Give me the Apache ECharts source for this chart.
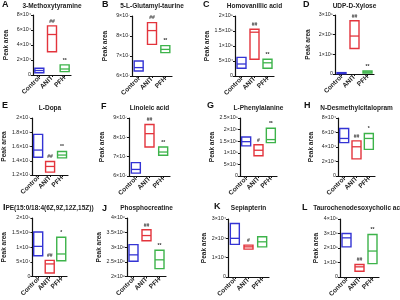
<!DOCTYPE html>
<html><head><meta charset="utf-8">
<script src="https://cdn.jsdelivr.net/npm/echarts@6/dist/echarts.min.js"></script>
<style>html,body{margin:0;padding:0;background:#fff}#c{width:400px;height:300px}</style>
</head><body><div id="c"></div>
<script>
const panelLetters = ['A','B','C','D','E','F','G','H','I','J','K','L'];
const metabolites = ['3-Methoxytyramine','5-L-Glutamyl-taurine','Homovanillic acid','UDP-D-Xylose',
  'L-Dopa','Linoleic acid','L-Phenylalanine','N-Desmethylcitalopram',
  'PE(15:0/18:4(6Z,9Z,12Z,15Z))','Phosphocreatine','Sepiapterin','Taurochenodesoxycholic acid'];
const groups = ['Control','ANIT','PFH'];
// axis ranges, in units of 10^yExp
const yMin  = [0, 6, 0,   0, 1.2, 6, 0,   0, 0,   2,   0, 0];
const yMax  = [8, 9, 2,   3, 2,   9, 2.5, 8, 2,   4,   3, 4];
const yStep = [2, 1, 0.5, 1, 0.2, 1, 0.5, 2, 0.5, 0.5, 1, 1];
const yExp  = [4, 7, 5,   5, 7,   7, 5,   4, 5,   6,   4, 5];
// boxes: [min, median, max]
const controlBox = [[0.3,0.6,0.9],[6.25,6.42,6.75],[0.26,0.4,0.62],[0.02,0.04,0.07],
  [1.45,1.55,1.77],[6.15,6.34,6.69],[1.3,1.48,1.68],[4.6,5.18,6.55],
  [0.71,1.03,1.52],[2.52,2.74,3.09],[1.69,2.0,2.77],[2.08,2.7,3.0]];
const anitBox = [[3.1,5.4,6.55],[7.58,8.27,8.67],[0.56,1.46,1.56],[1.3,1.93,2.71],
  [1.24,1.32,1.39],[7.5,8.19,8.66],[0.87,1.11,1.35],[2.36,4.03,4.85],
  [0.12,0.43,0.55],[3.22,3.4,3.6],[1.44,1.56,1.65],[0.4,0.7,0.86]];
const pfhBox = [[0.45,0.8,1.35],[7.17,7.33,7.52],[0.26,0.44,0.56],[0.05,0.1,0.15],
  [1.44,1.48,1.53],[7.07,7.24,7.5],[1.44,1.57,2.06],[3.67,5.18,5.86],
  [0.54,0.77,1.34],[2.27,2.57,2.9],[1.56,1.82,2.08],[0.92,1.79,2.93]];
const controlMark = ['','','','','','','','','','','',''];
const anitMark = ['##','##','##','##','##','##','#','##','##','##','#','##'];
const pfhMark  = ['**','**','**','**','**','**','**','*','*','**','','**'];

const colors = ['#3434d4','#e3343c','#3db34a'];
const boxes = [controlBox, anitBox, pfhBox];
const marks = [controlMark, anitMark, pfhMark];
const FONT = 'Liberation Sans, Arial, sans-serif';

// layout [left, top, width, height]
const layout = [
  [33,15,38,60],[132,16,40,60],[235,16,39,60],[335,15,39,59],
  [32,118,36,57],[129,118,41,58],[240,118,37,58],[338,118,37,58],
  [28,218,39,58.5],[127,218,39,58.5],[228,219,41,58],[340,219,39,58]];
const letterPos = [[2,5],[102,5],[203,5],[303,5],[2,106],[101,107],[207,106],[304,106],
  [3,208],[102,209],[214,207],[302,208]];
const titleY = [6,6,6,6,108.5,108.5,108.5,108.5,208.5,208.5,208.5,208.5];
const titleDx = [0,0,0,0,0,0,0,0,2,0,0,0];

const supMap = {'0':'⁰','1':'¹','2':'²','3':'³','4':'⁴','5':'⁵','6':'⁶','7':'⁷','8':'⁸','9':'⁹','-':'⁻'};
function sup(n){return String(n).split('').map(c=>supMap[c]).join('');}
function fmt(exp){
  return function(v){
    if (Math.abs(v) < 1e-9) return '0';
    const val = v * Math.pow(10, exp);
    const ex = Math.floor(Math.log10(val) + 1e-9);
    const m = Math.round(val / Math.pow(10, ex) * 100) / 100;
    return m + '×10' + sup(ex);
  };
}

const grids = [], xAxes = [], yAxes = [], series = [], graphics = [];
for (let p = 0; p < 12; p++) {
  const [l,t,w,h] = layout[p];
  grids.push({left:l, top:t, width:w, height:h});
  xAxes.push({type:'category', gridIndex:p, data:groups,
    axisLine:{show:true, lineStyle:{color:'#111', width:1.2}},
    axisTick:{show:true, alignWithLabel:true, length:2, lineStyle:{color:'#111'}},
    axisLabel:{rotate:45, fontSize:6.5, fontWeight:'bold', color:'#222', margin:2, interval:0, fontFamily:FONT}});
  yAxes.push({type:'value', gridIndex:p, min:yMin[p], max:yMax[p], interval:yStep[p],
    name:'Peak area', nameLocation:'middle', nameGap:(p>=8?19:23),
    nameTextStyle:{fontSize:6.5, fontWeight:'bold', color:'#222', fontFamily:FONT},
    axisLine:{show:true, lineStyle:{color:'#111', width:1.2}},
    axisTick:{show:true, length:2, lineStyle:{color:'#111'}},
    splitLine:{show:false},
    axisLabel:{fontSize:5.3, color:'#222', margin:2, formatter:fmt(yExp[p]), fontFamily:FONT}});
  const data = groups.map((g,i)=>[i, boxes[i][p][0], boxes[i][p][2], boxes[i][p][1]]);
  series.push({type:'custom', xAxisIndex:p, yAxisIndex:p, data:data, clip:false, silent:true,
    renderItem:function(params, api){
      const i = params.dataIndex;
      const x = api.value(0);
      const lo = api.coord([x, api.value(1)]);
      const hi = api.coord([x, api.value(2)]);
      const md = api.coord([x, api.value(3)]);
      const bw = 9;
      const c = colors[i];
      const ch = [
        {type:'rect', shape:{x:lo[0]-bw/2, y:hi[1], width:bw, height:Math.max(lo[1]-hi[1],1)},
          style:{fill:'none', stroke:c, lineWidth:1.4}},
        {type:'line', shape:{x1:lo[0]-bw/2, y1:md[1], x2:lo[0]+bw/2, y2:md[1]},
          style:{stroke:c, lineWidth:1.3}}
      ];
      const m = marks[i][p];
      if (m) ch.push({type:'text', x:lo[0], y:hi[1]-2,
        style:{text:m, fill:'#333', font:'bold 5px '+FONT, align:'center', verticalAlign:'bottom'}});
      return {type:'group', children:ch};
    }});
  graphics.push({type:'text', x:l+w/2+titleDx[p], y:titleY[p],
    style:{text:metabolites[p], fill:'#222', font:'bold 6.5px '+FONT, align:'center', verticalAlign:'middle'}});
  graphics.push({type:'text', x:letterPos[p][0], y:letterPos[p][1],
    style:{text:panelLetters[p], fill:'#111', font:'bold 9px '+FONT, align:'left', verticalAlign:'middle'}});
}

const chart = echarts.init(document.getElementById('c'), null, {renderer:'canvas'});
chart.setOption({animation:false, backgroundColor:'#fff', grid:grids, xAxis:xAxes, yAxis:yAxes, series:series, graphic:graphics});
</script></body></html>
